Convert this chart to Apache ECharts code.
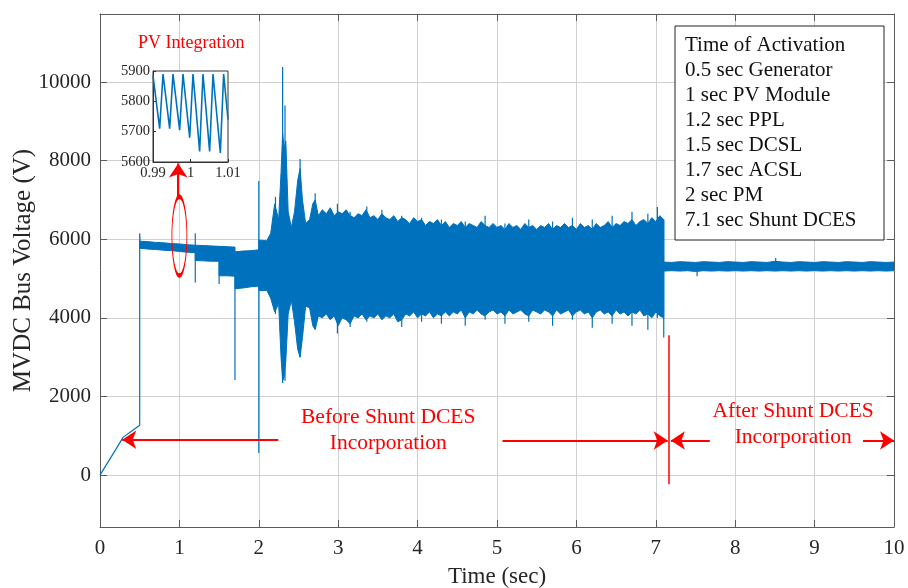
<!DOCTYPE html>
<html><head><meta charset="utf-8">
<script src="https://cdn.jsdelivr.net/npm/echarts@6/dist/echarts.min.js"></script>
<style>html,body{margin:0;padding:0;background:#fff}#c{width:908px;height:588px}</style>
</head><body><div id="c"></div><script>
// ---------- data ----------
const xTicks = [0,1,2,3,4,5,6,7,8,9,10];
const yTicks = [0,2000,4000,6000,8000,10000];

// start-up ramp and the jump at 0.5 s
const rampT = [0, 0.1, 0.2, 0.29, 0.4, 0.5, 0.5, 0.505];
const rampV = [0, 330, 655, 960, 1120, 1270, 6150, 5900];

// oscillation envelope (upper / lower edge of the dense band)
const bandT = [
  0.5,0.6,0.7,0.8,0.9,1.0,1.1,1.2, 1.2,1.3,1.4,1.5, 1.5,1.6,1.7, 1.7,1.8,1.9,2.0,
  2.0,2.05,2.1,2.15,2.2,2.25,2.28,2.3,2.32,2.34,2.37,2.41,2.45,2.49,2.52,2.55,2.59,2.64,2.68,2.71,
  2.75,2.8,2.85,2.9,2.95,3.0,3.05,3.1,3.15,3.2,3.25,3.3,3.35,3.4,3.45,3.5,3.55,3.6,3.65,3.7,3.75,3.8,3.85,3.9,3.95,
  4.0,4.05,4.1,4.15,4.2,4.25,4.3,4.35,4.4,4.45,4.5,4.55,4.6,4.65,4.7,4.75,4.8,4.85,4.9,4.95,
  5.0,5.05,5.1,5.15,5.2,5.25,5.3,5.35,5.4,5.45,5.5,5.55,5.6,5.65,5.7,5.75,5.8,5.85,5.9,5.95,
  6.0,6.05,6.1,6.15,6.2,6.25,6.3,6.35,6.4,6.45,6.5,6.55,6.6,6.65,6.7,6.75,6.8,6.85,6.9,6.95,7.0,7.05,7.1,
  7.1,7.2,7.3,7.4,7.5,7.6,7.7,7.8,7.9,8.0,8.1,8.2,8.3,8.4,8.5,8.6,8.7,8.8,8.9,9.0,9.1,9.2,9.3,9.4,9.5,9.6,9.7,9.8,9.9,10.0
];
const bandHi = [
  5950,5940,5920,5910,5890,5880,5860,5850, 5850,5840,5830,5820, 5820,5810,5800, 5680,5700,5710,5730,
  5980,5970,5960,6150,6900,6500,7700,8700,8300,8500,6700,6300,6700,7500,7800,7000,6400,6500,6900,7000,
  6600,6750,6650,6800,6600,6700,6650,6750,6600,6550,6650,6600,6750,6550,6600,6500,6650,6550,6500,6600,6450,6550,6500,6400,6550,
  6450,6500,6350,6450,6400,6500,6350,6450,6300,6400,6350,6450,6300,6400,6350,6300,6450,6350,6300,6400,
  6300,6350,6250,6400,6300,6350,6250,6400,6300,6350,6250,6350,6300,6400,6250,6350,6300,6400,6300,6350,
  6250,6400,6300,6350,6250,6400,6300,6350,6450,6300,6400,6350,6450,6400,6500,6350,6450,6500,6400,6550,6450,6600,6500,
  5420,5410,5430,5420,5410,5430,5420,5410,5430,5420,5410,5430,5420,5410,5440,5420,5410,5430,5420,5410,5430,5420,5410,5430,5420,5410,5430,5420,5410,5420
];
const bandLo = [
  5770,5750,5740,5720,5710,5690,5670,5660, 5460,5450,5440,5440, 5070,5070,5060, 4740,4760,4790,4810,
  4700,4690,4700,4500,4150,4350,3000,2400,2500,2900,4100,4450,3900,3200,3000,3500,4300,4250,3800,3700,
  4050,4000,4100,3950,4050,3800,4000,3950,3850,4050,4000,4100,3950,4050,4000,4100,3950,4050,4000,4100,3900,3950,4100,4050,4150,
  4000,4100,4050,4150,4000,4100,4050,4150,4050,4150,4100,4200,4000,4150,4100,4200,4100,4050,4150,4200,
  4100,4150,4050,4200,4100,4150,4200,4100,4050,4200,4150,4100,4200,4150,4050,4200,4100,4150,4200,4050,
  4150,4200,4100,4150,4000,4150,4200,4100,4150,4050,4200,4100,4150,4050,4150,4100,4200,4050,4100,4000,4150,4050,4000,
  5190,5200,5190,5200,5180,5200,5190,5200,5190,5200,5190,5200,5190,5200,5190,5200,5190,5200,5190,5200,5190,5200,5190,5200,5190,5200,5190,5200,5190,5200
];

// narrow transient needles
const needleT  = [1.2,1.5,1.7,2.0,2.21,2.3,2.33,2.52,2.71,2.99,3.15,3.36,3.55,3.8,4.05,4.3,4.6,4.85,5.1,5.4,5.7,5.95,6.2,6.45,6.7,6.9,7.02,7.1,7.52,8.51];
const needleHi = [6150,5830,5700,7480,7080,10380,9400,8040,7170,6900,6700,6830,6750,6600,6550,6500,6450,6600,6400,6500,6450,6550,6500,6600,6700,6650,6820,6500,5400,5520];
const needleLo = [4900,4860,2420,560,4100,2340,2400,3000,3760,3600,3770,3900,4000,3770,3900,3850,3800,3950,3850,3900,3800,3950,3750,3850,3800,3700,4000,3500,5060,5200];

// inset: PV integration detail
const insetT = [0.99,0.99178,0.99267,0.99444,0.99533,0.99711,0.998,0.99978,1.00067,1.00244,1.00333,1.0051,1.006,1.00796,1.00884,1.01];
const insetV = [5885,5710,5890,5710,5890,5705,5890,5680,5890,5635,5890,5635,5890,5630,5890,5740];
const insetXTicks = [0.99, 1, 1.01];
const insetYTicks = [5600, 5700, 5800, 5900];

const activationLines = ['Time of Activation','0.5 sec Generator','1 sec PV Module','1.2 sec PPL','1.5 sec DCSL','1.7 sec ACSL','2 sec PM','7.1 sec Shunt DCES'];

// ---------- chart ----------
const BLUE = '#0072BD', RED = '#ff0000', FONT = '"Liberation Serif", "Times New Roman", serif';
const AXC = '#5a5a5a', TXT = '#262626';
const plain = v => String(v);

const rampData = rampT.map((t,i)=>[t, rampV[i]]);
const needleData = [];
needleT.forEach((t,i)=>{ needleData.push([t, needleLo[i]], [t, needleHi[i]], [t, '-']); });
const insetData = insetT.map((t,i)=>[t, insetV[i]]);

const ellipsePath = 'path://M0,50 A50,50 0 1,1 100,50 A50,50 0 1,1 0,50 Z';
const txtLabel = (txt, size) => ({show:true, position:'inside', formatter:txt, color:RED, fontFamily:FONT, fontSize:size, lineHeight:26, align:'center', verticalAlign:'middle'});

const chart = echarts.init(document.getElementById('c'), null, {renderer:'canvas'});
chart.setOption({
  animation:false,
  backgroundColor:'#fff',
  grid:[
    {left:100, top:14, width:794, height:513, outerBoundsMode:'none', containLabel:false},
    {left:153, top:71, width:75, height:91, show:true, backgroundColor:'#fff', borderColor:'#333', borderWidth:1, z:3, outerBoundsMode:'none', containLabel:false}
  ],
  xAxis:[
    {type:'value', gridIndex:0, min:0, max:10, interval:1,
     axisLine:{show:true, onZero:false, lineStyle:{color:AXC}},
     axisTick:{show:true, inside:true, length:7, lineStyle:{color:AXC}},
     axisLabel:{fontFamily:FONT, fontSize:21, color:TXT, margin:11, showMinLabel:true, showMaxLabel:true, formatter:plain},
     splitLine:{show:true, lineStyle:{color:'#d0d0d0', width:1}},
     name:'Time (sec)', nameLocation:'middle', nameGap:38, nameMoveOverlap:false,
     nameTextStyle:{fontFamily:FONT, fontSize:23, color:TXT}},
    {type:'value', gridIndex:0, position:'top', min:0, max:10, interval:1,
     axisLine:{show:true, onZero:false, lineStyle:{color:AXC}},
     axisTick:{show:true, inside:true, length:7, lineStyle:{color:AXC}},
     axisLabel:{show:false}, splitLine:{show:false}},
    {type:'value', gridIndex:1, min:0.99, max:1.01, z:4,
     axisLine:{show:true, onZero:false, lineStyle:{color:'#333'}},
     axisTick:{show:true, inside:true, length:3, customValues:insetXTicks, lineStyle:{color:'#333'}},
     axisLabel:{customValues:insetXTicks, fontFamily:FONT, fontSize:14.5, color:TXT, margin:4, showMinLabel:true, showMaxLabel:true, formatter:plain},
     splitLine:{show:false}}
  ],
  yAxis:[
    {type:'value', gridIndex:0, min:-1320, max:11730,
     axisLine:{show:true, onZero:false, lineStyle:{color:AXC}},
     axisTick:{show:true, inside:true, length:7, customValues:yTicks, lineStyle:{color:AXC}},
     axisLabel:{customValues:yTicks, fontFamily:FONT, fontSize:21, color:TXT, margin:9, formatter:plain},
     splitLine:{show:true, lineStyle:{color:'#d0d0d0', width:1}},
     name:'MVDC Bus Voltage (V)', nameLocation:'middle', nameGap:64, nameMoveOverlap:false,
     nameTextStyle:{fontFamily:FONT, fontSize:25, color:TXT}},
    {type:'value', gridIndex:0, position:'right', min:-1320, max:11730,
     axisLine:{show:true, onZero:false, lineStyle:{color:AXC}},
     axisTick:{show:true, inside:true, length:7, customValues:yTicks, lineStyle:{color:AXC}},
     axisLabel:{show:false}, splitLine:{show:false}},
    {type:'value', gridIndex:1, min:5600, max:5900, interval:100, z:4,
     axisLine:{show:true, onZero:false, lineStyle:{color:'#333'}},
     axisTick:{show:true, inside:true, length:3, lineStyle:{color:'#333'}},
     axisLabel:{fontFamily:FONT, fontSize:14.5, color:TXT, margin:3, showMinLabel:true, showMaxLabel:true, formatter:plain},
     splitLine:{show:false}}
  ],
  series:[
    {type:'custom', name:'band', xAxisIndex:0, yAxisIndex:0, data:[[bandT[0], bandHi[0]]], clip:true, silent:true, z:2,
     renderItem:(params, api) => {
       const pts = [];
       for (let i = 0; i < bandT.length; i++) pts.push(api.coord([bandT[i], bandHi[i]]));
       for (let i = bandT.length - 1; i >= 0; i--) pts.push(api.coord([bandT[i], bandLo[i]]));
       return {type:'polygon', shape:{points:pts}, style:{fill:BLUE, stroke:BLUE, lineWidth:1}};
     }},
    {type:'line', name:'needles', xAxisIndex:0, yAxisIndex:0, data:needleData, symbol:'none', connectNulls:false,
     lineStyle:{color:BLUE, width:1.2}, silent:true},
    {type:'line', name:'ramp', xAxisIndex:0, yAxisIndex:0, data:rampData, showSymbol:false, symbol:'none',
     lineStyle:{color:BLUE, width:1.2}, silent:true,
     markLine:{silent:true, symbol:['none','arrow'], symbolSize:14, label:{show:false},
       lineStyle:{color:RED, width:2, type:'solid'},
       data:[
         [{coord:[2.245, 900]}, {coord:[0.28, 900]}],
         [{coord:[5.07, 880]}, {coord:[7.15, 880]}],
         [{coord:[7.68, 880]}, {coord:[7.19, 880]}],
         [{coord:[9.61, 880]}, {coord:[10.0, 880]}],
         [{coord:[0.985, 7070]}, {coord:[0.985, 7930]}],
         [{coord:[7.165, 3560], symbol:'none'}, {coord:[7.165, -230], symbol:'none', lineStyle:{width:1.5}}]
       ]},
     markPoint:{silent:true, data:[
       {coord:[1.0, 6080], symbol:ellipsePath, symbolSize:[15,79], symbolKeepAspect:false,
        itemStyle:{color:'rgba(0,0,0,0)', borderColor:RED, borderWidth:2}, label:{show:false}},
       {coord:[1.15, 10990], symbol:'circle', symbolSize:0, label:txtLabel('PV Integration', 18)},
       {coord:[3.63, 1150], symbol:'circle', symbolSize:0, label:txtLabel('Before Shunt DCES\nIncorporation', 21.5)},
       {coord:[8.73, 1300], symbol:'circle', symbolSize:0, label:txtLabel('After Shunt DCES\nIncorporation', 21.5)}
     ]}},
    {type:'line', name:'inset', xAxisIndex:2, yAxisIndex:2, data:insetData, symbol:'none', z:5,
     lineStyle:{color:BLUE, width:1.6}, silent:true}
  ],
  graphic:[
    {type:'group', z:10, children:[
      {type:'rect', shape:{x:675, y:26, width:209, height:214}, style:{fill:'#fff', stroke:'#222', lineWidth:1}, z:10},
      ...activationLines.map((s,i)=>({type:'text', z:11, x:685, y:45+i*25.1,
        style:{text:s, fontFamily:FONT, fontSize:21, fill:'#111', verticalAlign:'middle', align:'left'}}))
    ]}
  ]
});
</script></body></html>
